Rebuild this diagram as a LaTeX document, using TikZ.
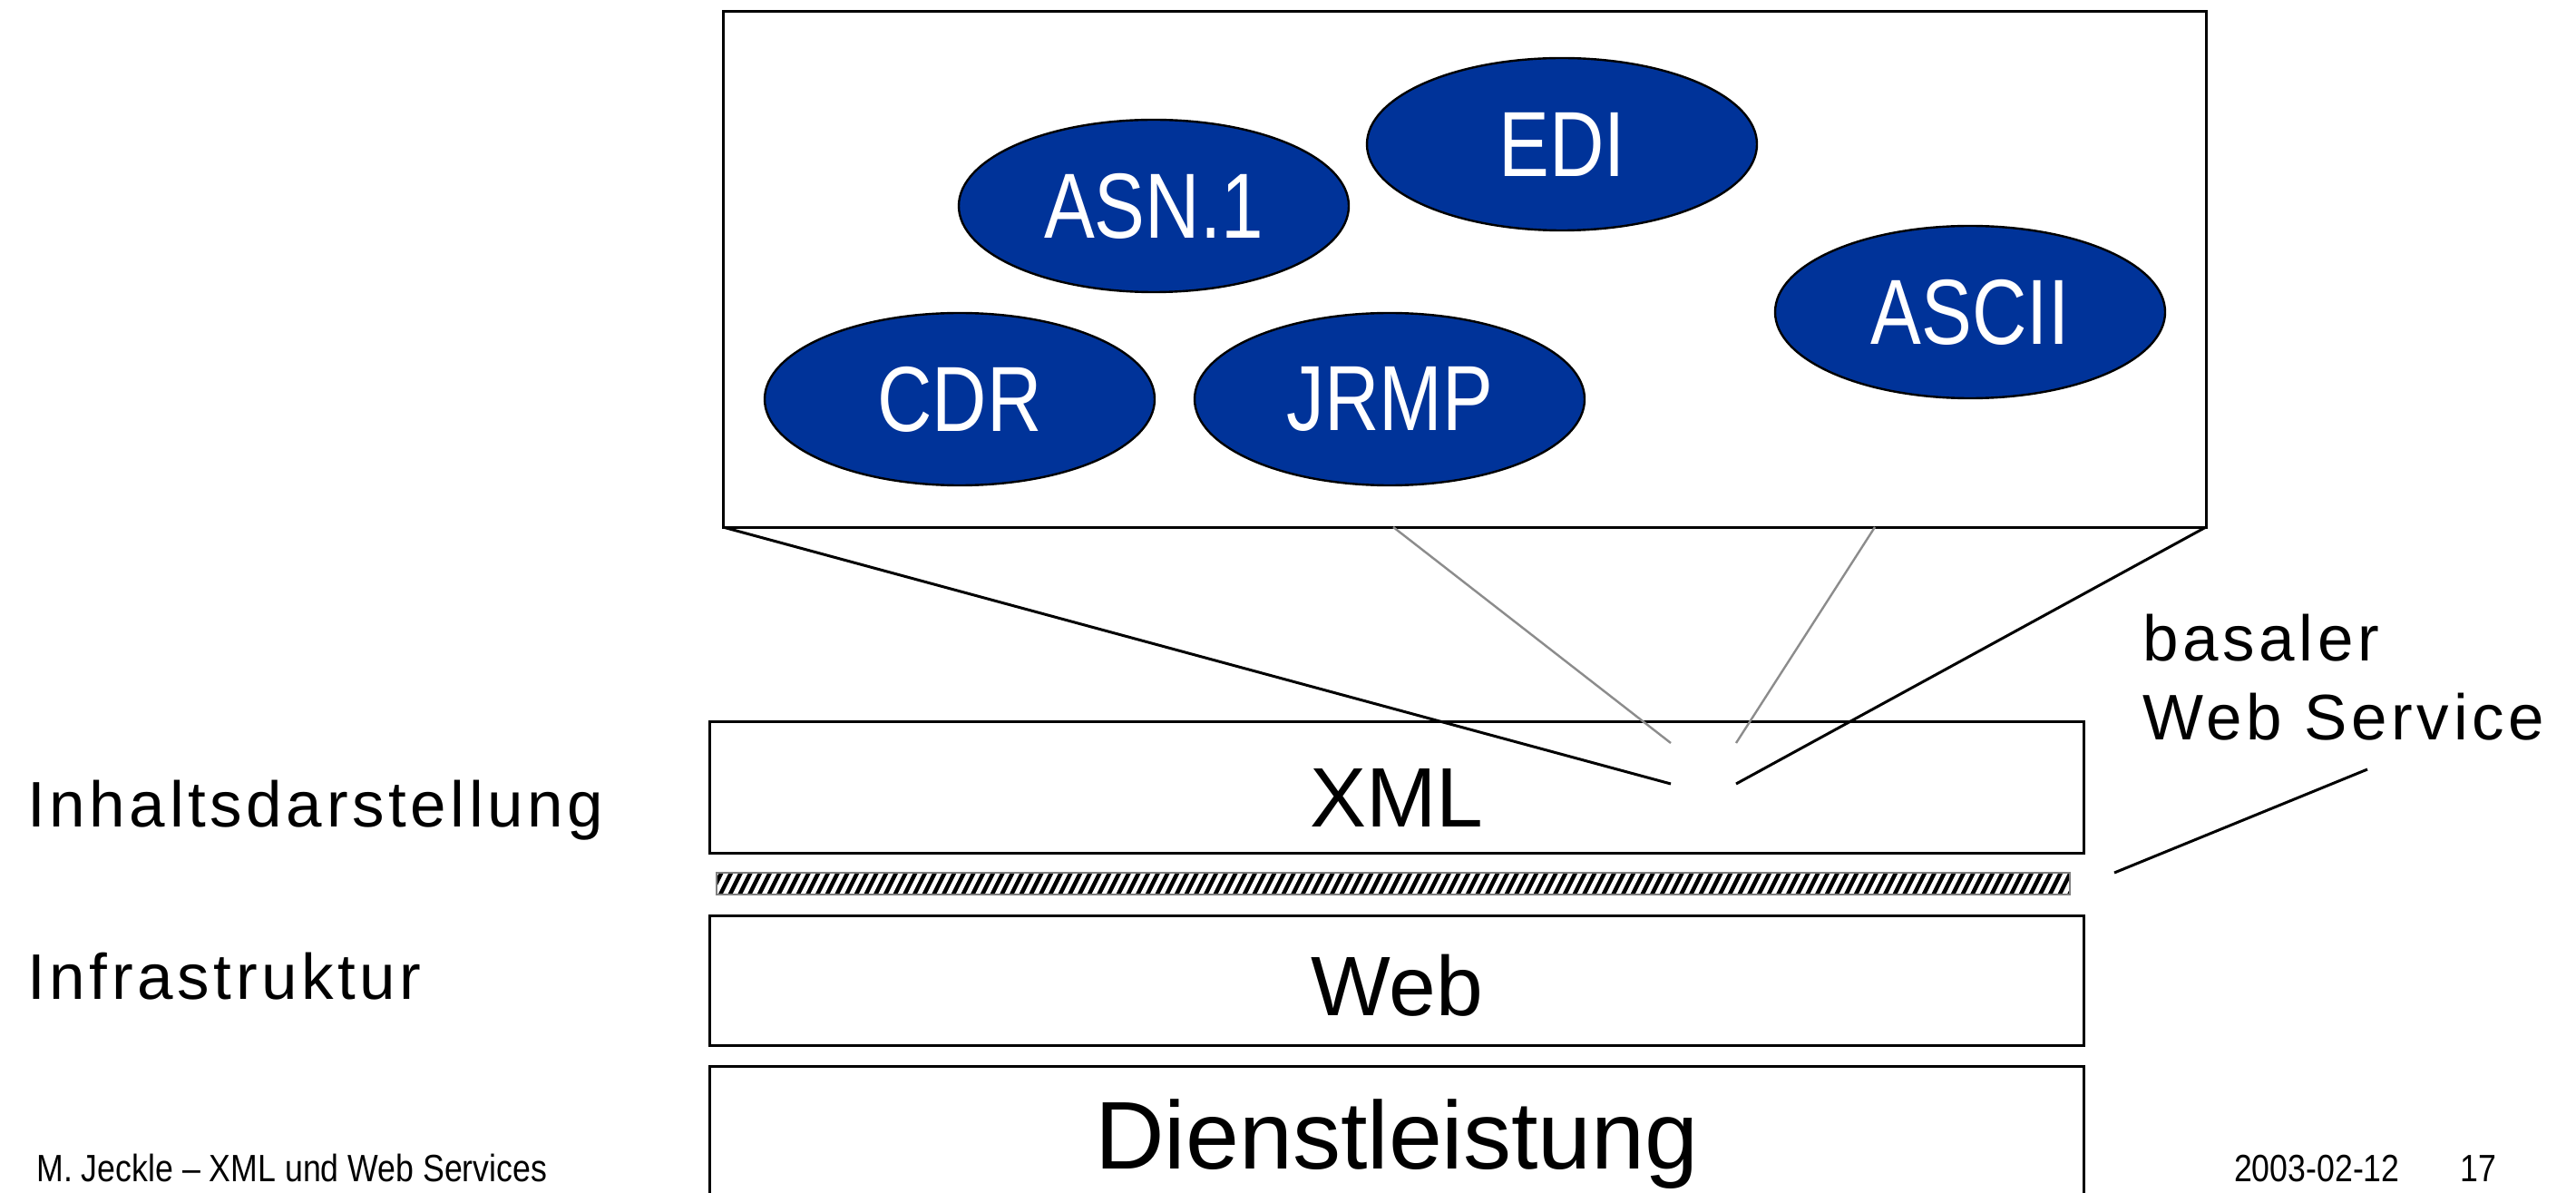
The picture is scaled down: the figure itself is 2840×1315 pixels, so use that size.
\documentclass[tikz,border=0pt]{standalone}
\usepackage{fontspec}
\setmainfont{Liberation Sans}
\newfontfamily\spacedfont[LetterSpace=6.5]{Liberation Sans}
\newfontfamily\condfont[FakeStretch=0.82]{Liberation Sans}
\newfontfamily\footfont[FakeStretch=0.85]{Liberation Sans}
\usetikzlibrary{shapes.geometric}
\definecolor{fmtblue}{RGB}{0,51,153}
\definecolor{linkgray}{RGB}{140,140,140}
\begin{document}
\begin{tikzpicture}[x=0.5pt,y=-0.5pt,
  layerbox/.style={draw=black, line width=1.5pt, rectangle, inner sep=0pt, outer sep=0pt, minimum width=757.5pt},
  fmt/.style={ellipse, draw=black, line width=1.2pt, fill=fmtblue, text=white,
    minimum width=215pt, minimum height=95pt, inner sep=0pt,
    font=\condfont\fontsize{51}{60}\selectfont},
  layertext/.style={anchor=base, inner sep=0pt, font=\fontsize{46.5}{56}\selectfont},
  sidetext/.style={anchor=base west, inner sep=0pt, font=\spacedfont\fontsize{35.5}{42}\selectfont},
  foot/.style={inner sep=0pt, font=\footfont\fontsize{21}{25}\selectfont},
  zoomline/.style={line width=1.5pt, black},
  thinlink/.style={line width=1.2pt, linkgray}]
\useasboundingbox (0,0) rectangle (2840,1315);
\clip (0,0) rectangle (2840,1315);

% magnified view of the formats
\node[layerbox, minimum width=817.5pt, minimum height=284pt] (formats) at (1614.5,297) {};
\node[fmt] (asn)   at (1272,227) {ASN.1};
\node[fmt] (edi)   at (1722,159) {EDI};
\node[fmt] (ascii) at (2172,344) {ASCII};
\node[fmt] (cdr)   at (1058,440) {CDR};
\node[fmt] (jrmp)  at (1532,440) {JRMP};

% layer stack
\node[layerbox, minimum height=72.5pt] (xml) at (1539.5,867.5) {};
\node[layertext] (xmltxt) at (1540,911) {XML};

\node[draw=gray, line width=0.6pt, fill=black, minimum width=746pt, minimum height=12pt, inner sep=0pt, outer sep=0pt] (bar) at (1536,974) {};
\begin{scope}
  \clip (bar.south west) rectangle (bar.north east);
  \foreach \i in {0,...,142}
    \draw[white, line width=2.4pt] ({776+\i*10.7},990) -- ({796+\i*10.7},950);
\end{scope}
\draw[gray, line width=0.6pt] (bar.south west) rectangle (bar.north east);

\node[layerbox, minimum height=71.5pt] (web) at (1539.5,1080.5) {};
\node[layertext] (webtxt) at (1540,1119) {Web};

\node[layerbox, minimum height=85pt] (dienst) at (1539.5,1260) {};
\node[layertext, font=\fontsize{53}{64}\selectfont] (diensttxt) at (1540,1288) {Dienstleistung};

% zoom connectors
\coordinate (lowL) at (1842,864);
\coordinate (lowR) at (1914,864);
\coordinate (highL) at (1842,819);
\coordinate (highR) at (1914,819);
\coordinate (topL) at (1536,581);
\coordinate (topR) at (2067,581);
\draw[zoomline] (formats.south west) -- (lowL);
\draw[zoomline] (formats.south east) -- (lowR);
\draw[thinlink] (topL) -- (highL);
\draw[thinlink] (topR) -- (highR);

% side labels
\node[sidetext] (inhalt) at (30,911) {Inhaltsdarstellung};
\node[sidetext] (infra) at (30,1101) {Infrastruktur};
\node[sidetext] (basal) at (2362,728) {basaler};
\node[sidetext] (wsvc) at (2362,815) {Web Service};
\coordinate (calloutA) at (2610,848);
\coordinate (calloutB) at (2331,962);
\draw[zoomline] (calloutA) -- (calloutB);

% footer
\node[foot, anchor=base west] (author) at (40,1302) {M. Jeckle – XML und Web Services};
\node[foot, anchor=base east] (date) at (2646,1302) {2003-02-12};
\node[foot, anchor=base east] (page) at (2753,1302) {17};
\end{tikzpicture}
\end{document}
